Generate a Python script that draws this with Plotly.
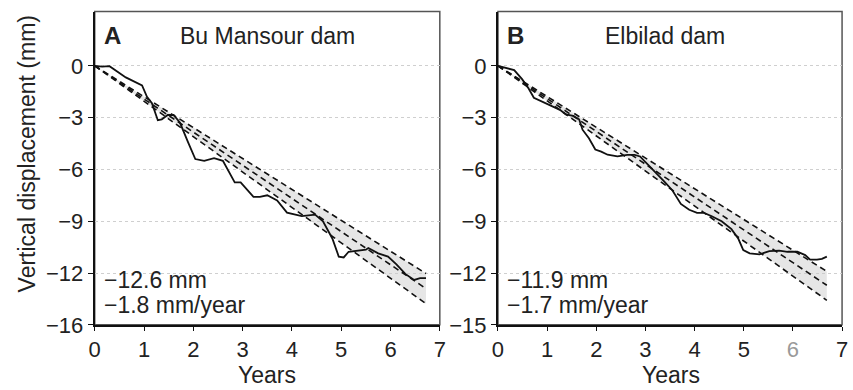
import plotly.graph_objects as go

# ---------------- data ----------------
years_ticks = [0, 1, 2, 3, 4, 5, 6, 7]
y_tickvals = [0, -3, -6, -9, -12, -15]
y_ticktext_a = ["0", "−3", "−6", "−9", "−12", "−16"]
y_ticktext_b = ["0", "−3", "−6", "−9", "−12", "−15"]

a_x = [0, 0.15, 0.3, 0.63, 0.96, 1.06, 1.16, 1.28, 1.36, 1.48, 1.6, 1.73, 1.89, 2.04,
       2.22, 2.42, 2.6, 2.7, 2.84, 2.96, 3.1, 3.22, 3.35, 3.5, 3.7, 3.9, 4.2, 4.47,
       4.63, 4.82, 4.95, 5.05, 5.15, 5.3, 5.5, 5.55, 5.75, 5.95, 6.12, 6.3, 6.48, 6.6, 6.72]
a_y = [0, -0.05, -0.02, -0.67, -1.14, -1.8, -2.17, -3.15, -3.1, -2.85, -2.85, -3.3, -4.41, -5.4,
       -5.5, -5.35, -5.5, -6.0, -6.75, -6.75, -7.2, -7.59, -7.59, -7.5, -7.8, -8.5, -8.7, -8.62,
       -9.0, -10.0, -11.05, -11.1, -10.77, -10.7, -10.65, -10.55, -10.86, -11.05, -11.5, -12.05,
       -12.4, -12.3, -12.3]

b_x = [0, 0.16, 0.33, 0.49, 0.62, 0.73, 0.83, 0.98, 1.13, 1.26, 1.38, 1.53, 1.65, 1.72, 1.85,
       1.98, 2.1, 2.23, 2.43, 2.63, 2.78, 2.89, 3.06, 3.22, 3.38, 3.55, 3.72, 3.89, 4.05, 4.19,
       4.35, 4.55, 4.75, 4.89, 4.99, 5.12, 5.32, 5.52, 5.72, 5.89, 6.09, 6.25, 6.35, 6.49, 6.59, 6.69]
b_y = [0, -0.11, -0.25, -0.77, -1.3, -1.85, -1.98, -2.2, -2.4, -2.55, -2.82, -2.9, -3.1, -3.7,
       -4.2, -4.85, -4.97, -5.15, -5.25, -5.16, -5.16, -5.25, -5.75, -6.2, -6.7, -7.22, -8.0,
       -8.34, -8.52, -8.52, -8.71, -9.0, -9.46, -10.02, -10.67, -10.86, -10.92, -10.73, -10.7,
       -10.77, -10.77, -10.96, -11.23, -11.23, -11.18, -11.05]

# fitted rates (mm/year): upper bound, central fit, lower bound
a_rates = [-1.79, -1.92, -2.05]
b_rates = [-1.78, -1.90, -2.03]
a_fit_end = 6.72
b_fit_end = 6.69

a_title, b_title = "Bu Mansour dam", "Elbilad dam"
a_total, a_rate_txt = "−12.6 mm", "−1.8 mm/year"
b_total, b_rate_txt = "−11.9 mm", "−1.7 mm/year"

# ---------------- figure ----------------
W, H = 853, 390
FONT = "Liberation Sans, Arial, sans-serif"
fig = go.Figure()


def px_x(p):
    return p / W


def px_y(p):
    return 1 - p / H


def add_panel(xs, ys, rates, x_end, xa, ya):
    fx = [0, x_end]
    up = [0, x_end * rates[0]]
    mid = [0, x_end * rates[1]]
    lo = [0, x_end * rates[2]]
    dash = dict(color="#111", width=1.6, dash="6px,4px")
    fig.add_trace(go.Scatter(x=fx, y=lo, mode="lines", line=dash, xaxis=xa, yaxis=ya,
                             showlegend=False, hoverinfo="skip"))
    fig.add_trace(go.Scatter(x=fx, y=up, mode="lines", line=dash, fill="tonexty",
                             fillcolor="rgba(200,200,200,0.45)", xaxis=xa, yaxis=ya,
                             showlegend=False, hoverinfo="skip"))
    fig.add_trace(go.Scatter(x=fx, y=mid, mode="lines", line=dash, xaxis=xa, yaxis=ya,
                             showlegend=False, hoverinfo="skip"))
    fig.add_trace(go.Scatter(x=xs, y=ys, mode="lines", line=dict(color="#111", width=1.8),
                             xaxis=xa, yaxis=ya, showlegend=False))


add_panel(a_x, a_y, a_rates, a_fit_end, "x", "y")
add_panel(b_x, b_y, b_rates, b_fit_end, "x2", "y2")

dom_a = [px_x(90), px_x(440)]
dom_b = [px_x(499), px_x(848)]
dom_y = [px_y(336), px_y(12)]

b_xtext = [str(v) if v != 6 else '<span style="color:#9a9a9a">6</span>' for v in years_ticks]

xcommon = dict(range=[0, 7], tickvals=years_ticks, showline=True, linecolor="#111",
               linewidth=2, ticks="outside", ticklen=4, tickcolor="#111", showgrid=False,
               zeroline=False, tickfont=dict(family=FONT, size=22, color="#222"))
ycommon = dict(range=[-15, 3.14], tickvals=y_tickvals, showline=True, linecolor="#111",
               linewidth=2, ticks="outside", ticklen=5, tickcolor="#111", showgrid=True,
               gridcolor="#cfcfcf", griddash="dot", gridwidth=1, zeroline=False,
               tickfont=dict(family=FONT, size=22, color="#222"), domain=dom_y)

fig.update_layout(
    width=W, height=H, margin=dict(l=0, r=0, t=0, b=0),
    paper_bgcolor="white", plot_bgcolor="white",
    xaxis=dict(domain=dom_a, anchor="y", ticktext=[str(v) for v in years_ticks], **xcommon),
    xaxis2=dict(domain=dom_b, anchor="y2", ticktext=b_xtext, **xcommon),
    yaxis=dict(anchor="x", ticktext=y_ticktext_a, **ycommon),
    yaxis2=dict(anchor="x2", ticktext=y_ticktext_b, **ycommon),
)

# frames (top/right in grey)
for d in (dom_a, dom_b):
    fig.add_shape(type="rect", xref="paper", yref="paper", x0=d[0], x1=d[1],
                  y0=dom_y[0], y1=dom_y[1], line=dict(color="#555", width=1.5), layer="below")

anns = []


def ann(text, x, y, size=23, xanchor="left", bold=False, angle=0, color="#222"):
    anns.append(dict(text=f"<b>{text}</b>" if bold else text, x=px_x(x), y=px_y(y),
                     xref="paper", yref="paper", showarrow=False, xanchor=xanchor,
                     yanchor="middle", textangle=angle,
                     font=dict(family=FONT, size=size, color=color)))


ann("A", 97, 37, size=24, bold=True)
ann(a_title, 265, 37, xanchor="center")
ann("B", 506, 37, size=24, bold=True)
ann(b_title, 668, 37, xanchor="center")
ann(a_total, 97, 290)
ann(a_rate_txt, 97, 315)
ann(b_total, 506, 290)
ann(b_rate_txt, 506, 315)
ann("Years", 265, 388, xanchor="center")
ann("Years", 674, 388, xanchor="center")
ann("Vertical displacement (mm)", 21, 159, xanchor="center", angle=-90)
fig.update_layout(annotations=anns)

fig.write_html("out.html")
